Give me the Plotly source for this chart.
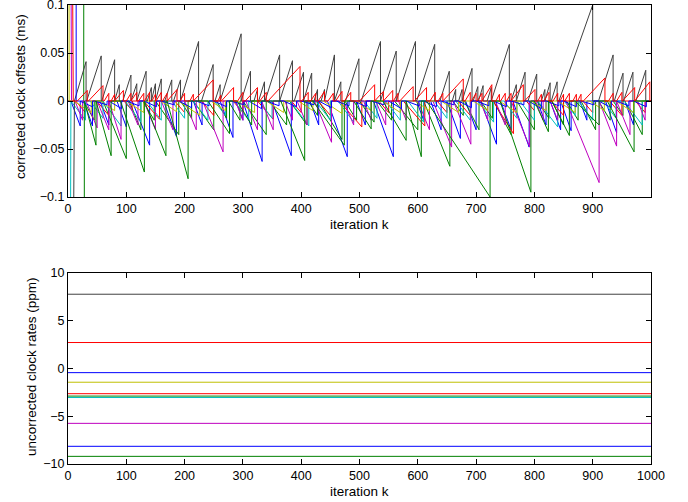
import plotly.graph_objects as go

# ---------------- data ----------------
iter_min, iter_max = 0, 1000
top_xticks = [0, 100, 200, 300, 400, 500, 600, 700, 800, 900]
bottom_xticks = [0, 100, 200, 300, 400, 500, 600, 700, 800, 900, 1000]
top_yticks = [-0.1, -0.05, 0, 0.05, 0.1]
bottom_yticks = [-10, -5, 0, 5, 10]

# sawtooth vertices of the corrected clock offsets (ms): ramp start, peak iteration, peak value
# initial (out of range) offsets: [iteration of first correction, value before it]
blue2_init = None
blue2_start = [5, 27, 55, 84, 110, 164, 215, 261, 288, 300, 350, 415, 445, 495, 524, 598, 622, 650, 682, 708,
               742, 763, 805, 827, 845, 878, 922, 955]
blue2_peak = [21, 42, 70, 100, 140, 186, 230, 283, 300, 333, 383, 430, 479, 510, 558, 610, 640, 673, 700, 735,
              760, 791, 820, 845, 863, 890, 941, 970]
blue2_val = [-.026, -.026, -.025, -.027, -.046, -.037, -.025, -.038, -.020, -.063, -.057, -.025, -.058, -.025,
             -.058, -.020, -.030, -.039, -.030, -.045, -.030, -.048, -.025, -.030, -.031, -.020, -.033, -.025]

greenB_init = [27, 1.0]
greenB_start = [27, 60, 105, 128, 150, 193, 215, 255, 275, 300, 345, 380, 412, 430, 475, 500, 530, 560, 610, 660,
                680, 708, 730, 770, 805, 830, 855, 880, 910, 935, 955]
greenB_peak = [45, 100, 125, 148, 190, 212, 250, 272, 295, 340, 375, 410, 428, 470, 495, 525, 555, 600, 655, 678,
               705, 728, 760, 800, 825, 850, 875, 905, 930, 952, 985]
greenB_val = [-.020, -.060, -.030, -.020, -.035, -.018, -.030, -.018, -.020, -.035, -.025, -.025, -.015, -.040,
              -.020, -.022, -.020, -.030, -.068, -.015, -.030, -.018, -.035, -.030, -.018, -.025, -.020, -.030,
              -.020, -.015, -.035]

red2_init = None
red2_start = [13, 49, 96, 130, 183, 229, 283, 325, 383, 429, 465, 533, 575, 633, 669, 729, 786, 829, 883, 929, 973]
red2_peak = [30, 70, 110, 157, 200, 250, 300, 352, 400, 450, 504, 550, 612, 650, 690, 764, 800, 850, 900, 950, 990]
red2_val = [-.012, -.015, -.010, -.019, -.012, -.015, -.012, -.019, -.012, -.015, -.027, -.012, -.026, -.012,
            -.015, -.034, -.010, -.015, -.012, -.015, -.012]

cyan_init = [4, -1.0]
cyan_start = [5, 38, 60, 98, 135, 178, 215, 251, 285, 328, 381, 425, 463, 508, 545, 583, 628, 665, 703, 748,
              775, 806, 851, 875, 918, 954]
cyan_peak = [30, 60, 91, 125, 160, 200, 240, 270, 310, 350, 413, 450, 490, 530, 570, 610, 650, 690, 730, 770,
             800, 840, 870, 900, 940, 985]
cyan_val = [-.020, -.018, -.026, -.022, -.020, -.018, -.020, -.015, -.020, -.018, -.026, -.020, -.022, -.018,
            -.020, -.022, -.018, -.020, -.022, -.018, -.020, -.027, -.015, -.020, -.018, -.025]

magenta_init = [6, 1.0]
magenta_start = [12, 31, 50, 70, 103, 130, 160, 200, 231, 287, 305, 332, 372, 393, 423, 473, 507, 528, 567, 600,
                 626, 661, 707, 733, 760, 802, 827, 854, 911, 941, 977]
magenta_peak = [25, 50, 70, 91, 120, 150, 180, 220, 266, 300, 325, 352, 385, 410, 452, 490, 520, 545, 580, 620,
                658, 691, 720, 750, 792, 815, 840, 911, 941, 964, 990]
magenta_val = [-.020, -.028, -.030, -.040, -.025, -.030, -.030, -.030, -.053, -.020, -.030, -.030, -.020, -.025,
               -.043, -.025, -.020, -.025, -.020, -.030, -.048, -.045, -.020, -.025, -.048, -.020, -.020, -.085,
               -.047, -.035, -.020]

yellow_init = [2, 1.0]
yellow_start = [10, 55, 100, 159, 189, 245, 290, 340, 395, 438, 495, 540, 595, 640, 695, 740, 795, 840, 895, 940]
yellow_peak = [40, 80, 130, 186, 226, 270, 320, 370, 420, 470, 520, 570, 620, 670, 720, 770, 820, 870, 920, 970]
yellow_val = [-.012, -.010, -.012, -.011, -.015, -.010, -.012, -.012, -.010, -.013, -.010, -.012, -.010, -.012,
              -.010, -.012, -.010, -.012, -.010, -.012]

black_init = [11, -1.0]
black_start = [11, 32, 58, 80, 94, 108, 118, 136, 143, 150, 166, 181, 193, 229, 252, 261, 297, 319, 327, 338,
               363, 388, 404, 422, 434, 440, 457, 476, 503, 536, 563, 598, 638, 659, 670, 676, 695, 704, 719, 726,
               760, 769, 789, 812, 818, 829, 842, 910, 937, 953, 974]
black_peak = [31, 57, 80, 88, 108, 118, 134, 143, 150, 160, 178, 193, 224, 249, 261, 297, 313, 325, 337, 363,
              385, 404, 418, 428, 440, 457, 468, 499, 536, 563, 596, 629, 654, 665, 676, 693, 703, 712, 726, 757,
              769, 784, 804, 818, 827, 839, 900, 935, 952, 969, 991]
black_val = [.041, .047, .043, .017, .027, .018, .031, .014, .018, .023, .022, .022, .062, .038, .017, .070, .031,
             .012, .020, .048, .042, .030, .029, .012, .012, .048, .020, .044, .062, .052, .062, .059, .031, .012,
             .012, .034, .015, .016, .014, .059, .017, .030, .028, .012, .019, .020, .100, .048, .029, .030, .032]

blue1_init = [14, 1.0]
blue1_start = [20, 45, 70, 100, 130, 160, 190, 220, 250, 280, 310, 340, 370, 400, 430, 460, 490, 520, 550, 580,
               610, 640, 670, 700, 730, 760, 790, 820, 850, 880, 910, 940, 970]
blue1_peak = [42, 67, 92, 122, 152, 182, 212, 242, 272, 302, 332, 362, 392, 422, 452, 482, 512, 542, 572, 602,
              632, 662, 692, 722, 752, 782, 812, 842, 872, 902, 932, 962, 992]
blue1_val = [-.006, -.004, -.008, -.005, -.006, -.004, -.007, -.005, -.006, -.004, -.008, -.005, -.006, -.004,
             -.007, -.005, -.006, -.004, -.008, -.005, -.006, -.004, -.007, -.005, -.006, -.004, -.008, -.005,
             -.006, -.004, -.007, -.005, -.006]

greenA_init = [28, -1.0]
greenA_start = [28, 48, 90, 131, 170, 240, 290, 365, 420, 490, 540, 580, 615, 741, 800, 830, 870, 925]
greenA_peak = [48, 74, 131, 168, 206, 277, 315, 406, 474, 520, 580, 606, 724, 794, 824, 860, 911, 971]
greenA_val = [-.046, -.057, -.074, -.057, -.081, -.034, -.025, -.062, -.046, -.029, -.041, -.058, -.100, -.095,
              -.032, -.036, -.025, -.053]

red_init = [9, 1.0]
red_start = [16, 35, 62, 74, 80, 100, 108, 121, 131, 144, 151, 162, 170, 192, 209, 215, 257, 263, 291, 304,
             329, 343, 401, 416, 429, 446, 459, 474, 500, 526, 541, 558, 569, 594, 621, 635, 643, 681, 692, 702,
             710, 734, 742, 752, 760, 783, 806, 816, 832, 844, 852, 866, 874, 884, 927, 941, 951, 972]
red_peak = [33, 60, 70, 80, 95, 108, 118, 130, 140, 150, 160, 170, 187, 200, 215, 249, 262, 284, 300, 325,
            340, 398, 412, 425, 440, 455, 470, 485, 526, 541, 557, 566, 592, 615, 630, 643, 678, 690, 700, 710,
            727, 740, 750, 760, 781, 801, 812, 825, 840, 850, 860, 872, 880, 921, 935, 950, 972, 998]
red_val = [.011, .016, .008, .007, .011, .008, .009, .008, .009, .007, .009, .008, .012, .008, .007, .022, .006,
           .014, .009, .014, .009, .036, .009, .008, .010, .008, .010, .009, .017, .010, .011, .008, .015, .014,
           .009, .008, .023, .009, .008, .008, .017, .007, .008, .008, .017, .012, .007, .009, .008, .007, .008,
           .007, .007, .024, .008, .009, .014, .020]

# uncorrected clock rates (ppm), one per node, same order as the series below
rates = [-8.15, -2.9, -2.65, -3.05, -5.75, -1.45, 7.75, -0.45, -9.2, 2.7]

series = [
    ("#0000ff", blue2_init, blue2_start, blue2_peak, blue2_val),
    ("#008000", greenB_init, greenB_start, greenB_peak, greenB_val),
    ("#ff0000", red2_init, red2_start, red2_peak, red2_val),
    ("#00bfbf", cyan_init, cyan_start, cyan_peak, cyan_val),
    ("#bf00bf", magenta_init, magenta_start, magenta_peak, magenta_val),
    ("#bfbf00", yellow_init, yellow_start, yellow_peak, yellow_val),
    ("#404040", black_init, black_start, black_peak, black_val),
    ("#0000ff", blue1_init, blue1_start, blue1_peak, blue1_val),
    ("#008000", greenA_init, greenA_start, greenA_peak, greenA_val),
    ("#ff0000", red_init, red_start, red_peak, red_val),
]


def sawtooth(init, starts, peaks, vals):
    xs, ys = [], []
    if init is None:
        xs.append(iter_min); ys.append(0.0)
    else:
        xs += [iter_min, init[0], init[0]]; ys += [init[1], init[1], 0.0]
    for s, p, v in zip(starts, peaks, vals):
        xs += [s, p, p]; ys += [0.0, v, 0.0]
    xs.append(iter_max); ys.append(0.0)
    return xs, ys


fig = go.Figure()
for (color, init, st, pk, vl), rate in zip(series, rates):
    xs, ys = sawtooth(init, st, pk, vl)
    fig.add_trace(go.Scatter(x=xs, y=ys, mode="lines", line=dict(color=color, width=1),
                             xaxis="x", yaxis="y", showlegend=False, hoverinfo="skip"))
for (color, *_), rate in zip(series, rates):
    fig.add_trace(go.Scatter(x=[iter_min, iter_max], y=[rate, rate], mode="lines",
                             line=dict(color=color, width=1), xaxis="x2", yaxis="y2",
                             showlegend=False, hoverinfo="skip"))

tick_font = dict(family="Liberation Sans, Arial, sans-serif", size=12.5, color="black")
title_font = dict(family="Liberation Sans, Arial, sans-serif", size=13.5, color="black")
axis_common = dict(showline=True, linecolor="black", linewidth=1, mirror="allticks", ticks="inside",
                   ticklen=5, tickcolor="black", showgrid=False, zeroline=False, tickfont=tick_font,
                   automargin=False, ticklabeloverflow="allow")

plot_h = 502 - 5 - 38
dom_top = [1 - (197 - 5) / plot_h, 1]
dom_bot = [0, 1 - (272.7 - 5) / plot_h]

fig.update_layout(
    width=688, height=502,
    margin=dict(l=68, r=37, t=5, b=38, autoexpand=False),
    paper_bgcolor="white", plot_bgcolor="white",
    font=tick_font,
    xaxis=dict(axis_common, domain=[0, 1], range=[iter_min, iter_max], tickvals=top_xticks, anchor="y"),
    yaxis=dict(axis_common, domain=dom_top, range=[-0.1, 0.1], tickvals=top_yticks, anchor="x"),
    xaxis2=dict(axis_common, domain=[0, 1], range=[iter_min, iter_max], tickvals=bottom_xticks, anchor="y2"),
    yaxis2=dict(axis_common, domain=dom_bot, range=[-10, 10], tickvals=bottom_yticks, anchor="x2"),
    annotations=[
        dict(text="iteration k", xref="paper", yref="paper", x=0.5, y=(464 - 224) / plot_h,
             showarrow=False, font=title_font, xanchor="center", yanchor="middle"),
        dict(text="iteration k", xref="paper", yref="paper", x=0.5, y=(464 - 492) / plot_h,
             showarrow=False, font=title_font, xanchor="center", yanchor="middle"),
        dict(text="corrected clock offsets (ms)", xref="paper", yref="paper", x=(20 - 68) / 583,
             y=(464 - 97) / plot_h, textangle=-90, showarrow=False, font=title_font,
             xanchor="center", yanchor="middle"),
        dict(text="uncorrected clock rates (ppm)", xref="paper", yref="paper", x=(32 - 68) / 583,
             y=(464 - 367) / plot_h, textangle=-90, showarrow=False, font=title_font,
             xanchor="center", yanchor="middle"),
    ],
)

fig.write_html("out.html", config={"displayModeBar": False},
               post_script="document.body.style.margin='0';document.body.style.overflow='hidden';")
